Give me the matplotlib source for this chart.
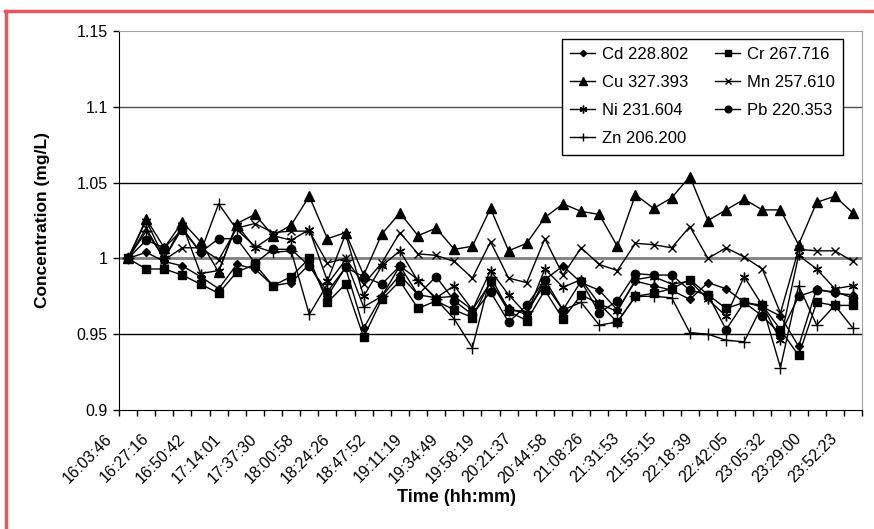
import numpy as np
import matplotlib.pyplot as plt
import matplotlib.transforms as mtransforms
from matplotlib.lines import Line2D

plt.rcParams['font.family'] = ['Liberation Sans', 'DejaVu Sans']

# time labels shown on the axis (every second sample)
times = ['16:03:46', '16:27:16', '16:50:42', '17:14:01', '17:37:30', '18:00:58',
         '18:24:26', '18:47:52', '19:11:19', '19:34:49', '19:58:19', '20:21:37',
         '20:44:58', '21:08:26', '21:31:53', '21:55:15', '22:18:39', '22:42:05',
         '23:05:32', '23:29:00', '23:52:23']

cd = [1.000, 1.004, 0.998, 0.995, 0.988, 0.980, 0.996, 0.993, 0.982, 0.984, 0.996,
      0.975, 0.994, 0.954, 0.975, 0.989, 0.976, 0.974, 0.975, 0.966, 0.984, 0.967,
      0.963, 0.986, 0.995, 0.984, 0.979, 0.966, 0.985, 0.982, 0.979, 0.973, 0.984,
      0.980, 0.971, 0.968, 0.962, 0.942, 0.980, 0.977, 0.976]
cr = [1.000, 0.993, 0.993, 0.989, 0.983, 0.977, 0.991, 0.996, 0.982, 0.988, 1.000,
      0.971, 0.983, 0.948, 0.973, 0.985, 0.967, 0.972, 0.966, 0.961, 0.985, 0.965,
      0.959, 0.979, 0.960, 0.976, 0.970, 0.958, 0.975, 0.977, 0.980, 0.986, 0.976,
      0.967, 0.971, 0.969, 0.953, 0.936, 0.971, 0.969, 0.969]
cu = [1.000, 1.026, 1.007, 1.024, 1.011, 0.991, 1.023, 1.029, 1.015, 1.022, 1.041,
      1.013, 1.017, 0.989, 1.016, 1.030, 1.015, 1.020, 1.006, 1.008, 1.033, 1.005,
      1.010, 1.027, 1.036, 1.031, 1.029, 1.008, 1.042, 1.033, 1.040, 1.054, 1.025,
      1.032, 1.039, 1.032, 1.032, 1.009, 1.037, 1.041, 1.030]
mn = [1.000, 1.020, 0.999, 1.007, 1.007, 0.999, 1.020, 1.023, 1.017, 1.018, 1.018,
      0.997, 1.000, 0.983, 0.997, 1.017, 1.003, 1.002, 0.998, 0.987, 1.011, 0.987,
      0.984, 1.013, 0.989, 1.007, 0.996, 0.992, 1.010, 1.009, 1.007, 1.021, 1.000,
      1.007, 1.001, 0.993, 0.964, 1.006, 1.005, 1.005, 0.998]
ni = [1.000, 1.025, 1.000, 1.022, 0.990, 0.992, 1.022, 1.007, 1.015, 1.012, 1.019,
      0.985, 1.016, 0.975, 0.995, 1.005, 0.985, 0.974, 0.982, 0.966, 0.992, 0.976,
      0.963, 0.993, 0.981, 0.986, 0.970, 0.965, 0.986, 0.988, 0.983, 0.985, 0.973,
      0.962, 0.988, 0.969, 0.946, 1.002, 0.993, 0.980, 0.982]
pb = [1.000, 1.012, 1.007, 1.019, 1.004, 1.013, 1.013, 0.997, 1.006, 1.006, 0.995,
      0.978, 0.994, 0.988, 0.983, 0.995, 0.976, 0.988, 0.972, 0.963, 0.978, 0.958,
      0.969, 0.986, 0.966, 0.985, 0.964, 0.972, 0.990, 0.989, 0.989, 0.979, 0.976,
      0.953, 0.971, 0.962, 0.950, 0.975, 0.979, 0.978, 0.974]
zn = [1.000, 1.018, 1.000, 1.020, 1.004, 1.036, 1.019, 1.008, 1.004, 1.005, 0.963,
      0.983, 0.999, 0.968, 0.975, 0.995, 0.986, 0.973, 0.960, 0.941, 0.988, 0.966,
      0.965, 0.983, 0.966, 0.971, 0.956, 0.958, 0.975, 0.975, 0.974, 0.951, 0.950,
      0.946, 0.945, 0.969, 0.928, 0.982, 0.956, 0.969, 0.954]

fig = plt.figure(figsize=(8.74, 5.29), dpi=100)
ax = fig.add_axes([119/874, 1 - 410/529, 743/874, 379/529])

x = np.arange(len(cd))
asterisk = (6, 2, 0)
h_cd, = ax.plot(x, cd, color='black', lw=1, marker='D', ms=4, label='Cd 228.802')
h_cr, = ax.plot(x, cr, color='black', lw=1, marker='s', ms=6, label='Cr 267.716')
h_cu, = ax.plot(x, cu, color='black', lw=1, marker='^', ms=6.5, label='Cu 327.393')
h_mn, = ax.plot(x, mn, color='black', lw=1, marker='x', ms=6, mew=1, label='Mn 257.610')
h_ni, = ax.plot(x, ni, color='black', lw=1, marker=asterisk, ms=7, mew=1, label='Ni 231.604')
h_pb, = ax.plot(x, pb, color='black', lw=1, marker='o', ms=6, label='Pb 220.353')
h_zn, = ax.plot(x, zn, color='black', lw=1, marker='+', ms=8, mew=1, label='Zn 206.200')

# gridlines
for v in [0.95, 1.05]:
    ax.axhline(v, color='black', lw=1, zorder=0)
ax.axhline(1.1, color='#505050', lw=1, zorder=0)
ax.axhline(1.0, color='#808080', lw=2, zorder=0)

ax.set_xlim(-0.5, len(cd) - 0.5)
ax.set_ylim(0.9, 1.15)
yt = [0.9, 0.95, 1.0, 1.05, 1.1, 1.15]
ax.set_yticks(yt)
ax.set_yticklabels(['%g' % v for v in yt], fontsize=11.5)
ax.tick_params(axis='y', direction='out', length=4, width=1, pad=4)

ax.set_xticks(np.arange(-0.5, len(cd), 1))
ax.set_xticklabels([])
ax.tick_params(axis='x', which='major', direction='out', length=4, width=1)
ax.set_xticks(np.arange(0, len(cd), 2), minor=True)
ax.set_xticklabels(times, minor=True, rotation=45, ha='right', va='center',
                   rotation_mode='anchor', fontsize=11.5)
ax.tick_params(axis='x', which='minor', length=0, pad=19)
offset = mtransforms.ScaledTranslation(-18/100, 0, fig.dpi_scale_trans)
for lbl in ax.xaxis.get_minorticklabels():
    lbl.set_transform(lbl.get_transform() + offset)

for s in ['top', 'right']:
    ax.spines[s].set_color('#a0a0a0')
for s in ['left', 'bottom']:
    ax.spines[s].set_color('black')

ax.set_ylabel('Concentration (mg/L)', fontsize=12.5, fontweight='bold')
ax.yaxis.set_label_coords(-0.093, 0.5)
ax.set_xlabel('Time (hh:mm)', fontsize=13, fontweight='bold', va='center')
ax.xaxis.set_label_coords(0.4536, -0.2296)

leg = ax.legend([h_cd, h_cu, h_ni, h_zn, h_cr, h_mn, h_pb],
                ['Cd 228.802', 'Cu 327.393', 'Ni 231.604', 'Zn 206.200',
                 'Cr 267.716', 'Mn 257.610', 'Pb 220.353'],
                ncol=2, loc='upper right', bbox_to_anchor=(843/874, 1 - 39/529),
                bbox_transform=fig.transFigure, fontsize=12, frameon=True,
                fancybox=False, framealpha=1, edgecolor='black',
                handlelength=1.5, handletextpad=0.4, columnspacing=1.6,
                labelspacing=0.78, borderpad=0.5, borderaxespad=0, markerscale=0.8)
leg.get_frame().set_linewidth(1)

# red frame around the picture
red = '#e8555a'
fig.add_artist(Line2D([6/874, 6/874], [0, 1 - 11/529], color=red, lw=2.5,
                      transform=fig.transFigure))
fig.add_artist(Line2D([5/874, 1], [1 - 11/529, 1 - 11/529], color=red, lw=2.5,
                      transform=fig.transFigure))

fig.savefig('out.png', dpi=100)
